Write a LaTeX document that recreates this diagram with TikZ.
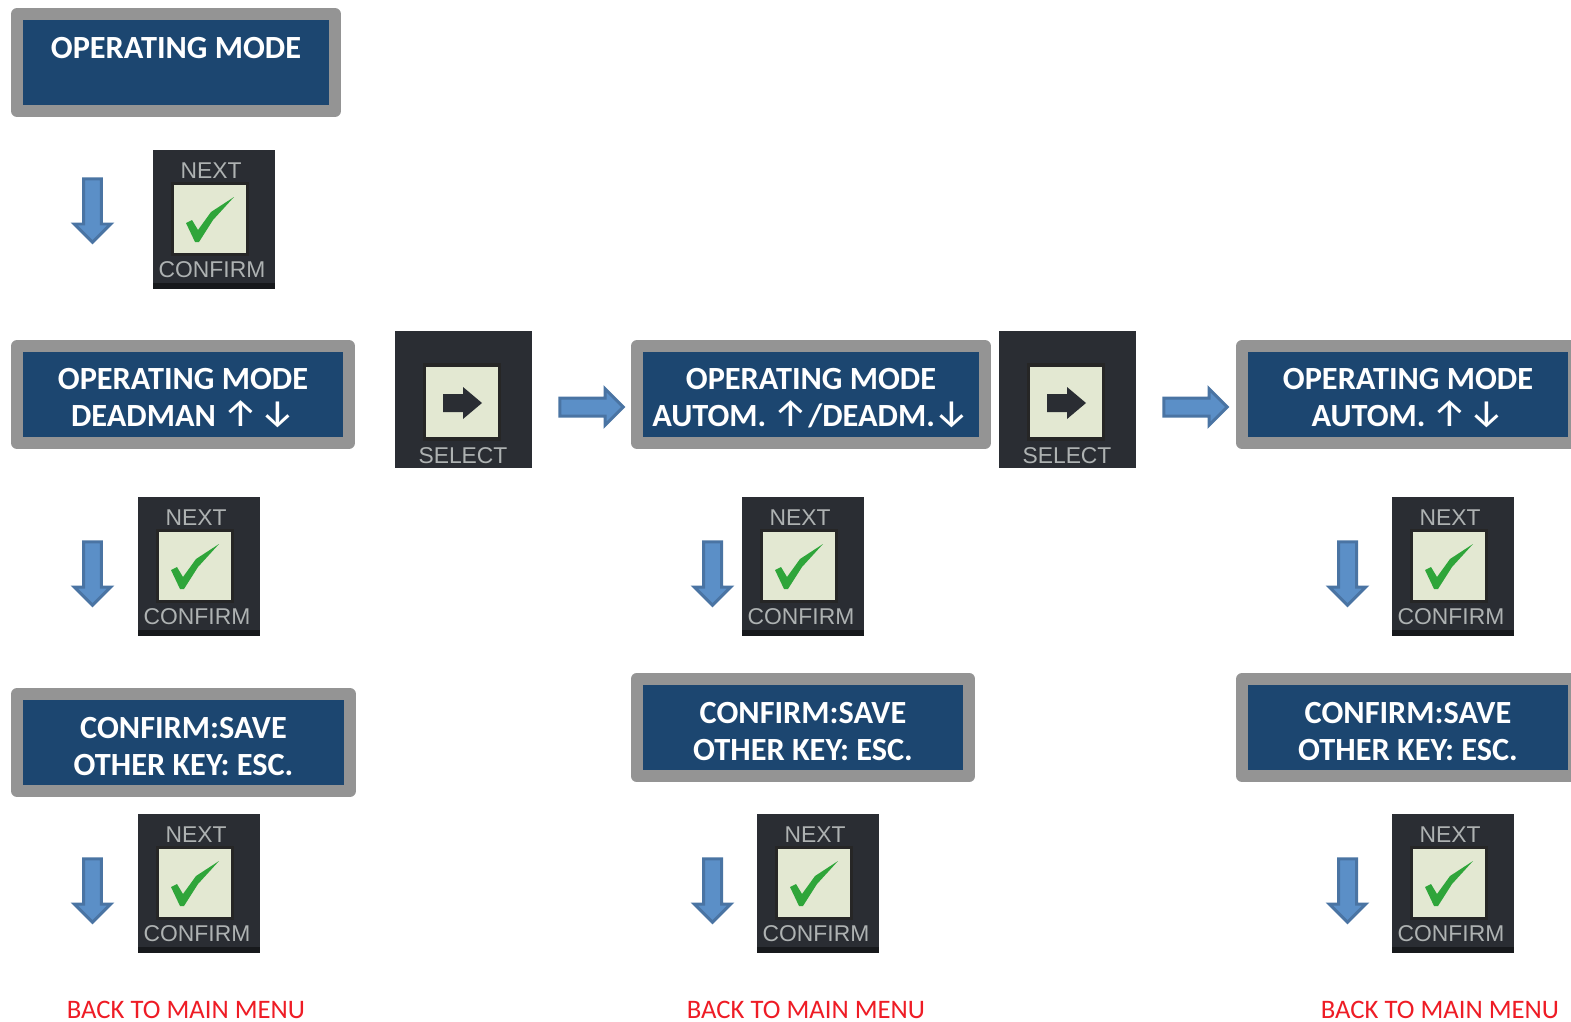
\documentclass[tikz,border=0pt]{standalone}
\usepackage{fontspec}
\usepackage{xcolor}
\usetikzlibrary{shapes.arrows}
\setmainfont{Carlito}
\newfontfamily\arrowfont{Fira Sans}
\newfontfamily\keyfont{Liberation Sans}
\definecolor{PanelBlue}{HTML}{1C4670}
\definecolor{PanelGray}{HTML}{949494}
\definecolor{KeyDark}{HTML}{2A2D33}
\definecolor{KeyStrip}{HTML}{17191C}
\definecolor{KeyLight}{HTML}{E3E8D2}
\definecolor{KeyText}{HTML}{AEB2B2}
\definecolor{CheckGreen}{HTML}{2FA53A}
\definecolor{ArrowFill}{HTML}{5B8FC7}
\definecolor{ArrowEdge}{HTML}{4A74A3}
\definecolor{BackRed}{HTML}{EE1C25}
\newcommand\txtmode{OPERATING MODE}
\newcommand\txtsave{CONFIRM:SAVE}
\newcommand\txtesc{OTHER KEY: ESC.}
\newcommand\txtback{BACK TO MAIN MENU}
\newcommand\arrup{{\arrowfont\mdseries\fontsize{22}{21}\selectfont\symbol{"2191}}}
\newcommand\arrdown{{\arrowfont\mdseries\fontsize{22}{21}\selectfont\symbol{"2193}}}
\tikzstyle{panel} = [rectangle, inner sep=0pt, align=center, draw=PanelGray, fill=PanelBlue, line width=0.24cm, line join=round, text=white, font=\fontsize{18.4}{21}\selectfont\bfseries, minimum height=1.94cm, text height=37.5pt]
\tikzstyle{keybody} = [rectangle, inner sep=0pt, anchor=north west, fill=KeyDark]
\tikzstyle{keypad} = [rectangle, inner sep=0pt, draw=black!85, fill=KeyLight, line width=0.07cm, minimum width=1.5cm]
\tikzstyle{keylabel} = [inner sep=0pt, text=KeyText, font=\fontsize{13}{13}\keyfont]
\tikzstyle{down} = [single arrow, shape border rotate=270, draw=ArrowEdge, fill=ArrowFill, line width=0.06cm, inner sep=0.15cm, minimum height=1.27cm, single arrow head extend=0.185cm]
\tikzstyle{right} = [down, shape border rotate=0]
\tikzstyle{back} = [inner sep=0pt, text=BackRed, font=\fontsize{15.2}{16}\selectfont]
\tikzset{
  nextkey/.pic={
    \node[keybody, minimum width=2.44cm, minimum height=2.78cm] (-body) at (0,0) {};
    \fill[KeyStrip] (0,133) rectangle (122,139);
    \node[keypad, minimum height=1.42cm] (-pad) at (57,69) {};
    \fill[CheckGreen] (33,73) -- (39,70) -- (45,80) -- (58,62) -- (81,47) -- (60,70) -- (46,92) -- (42,92) -- cycle;
    \node[keylabel] (-next) at (58,21) {NEXT};
    \node[keylabel] (-confirm) at (59,120) {CONFIRM};
  },
  selectkey/.pic={
    \node[keybody, minimum width=2.74cm, minimum height=2.74cm] (-body) at (0,0) {};
    \node[keypad, minimum height=1.48cm] (-pad) at (67,71) {};
    \fill[KeyDark] (48,63) -- (68,63) -- (68,56) -- (87,72) -- (68,88) -- (68,81) -- (48,81) -- cycle;
    \node[keylabel] (-select) at (68,125) {SELECT};
  }
}
\begin{document}
\begin{tikzpicture}[x=0.02cm, y=-0.02cm]
\clip (0,0) rectangle (1571,1021);
\node[panel, minimum width=6.36cm] (mode) at (176,62.5) {\txtmode\\ \phantom{\txtmode}};
\node[panel, minimum width=6.64cm] (deadman) at (183,394.5) {\txtmode\\DEADMAN \arrup\kern-3pt\ \arrdown};
\node[panel, minimum width=6.96cm] (autodead) at (811,394.5) {\txtmode\\AUTOM. \arrup/DEADM.\arrdown};
\node[panel, minimum width=6.64cm] (autom) at (1408,394.5) {\txtmode\\AUTOM. \arrup\kern-3pt\ \arrdown};
\node[panel, minimum width=6.66cm] (savea) at (183.5,742.5) {\txtsave\\\txtesc};
\node[panel, minimum width=6.66cm] (saveb) at (803,727.5) {\txtsave\\\txtesc};
\node[panel, minimum width=6.64cm] (savec) at (1408,727.5) {\txtsave\\\txtesc};
\pic (ka) at (153,150) {nextkey};
\pic (kb) at (138,497) {nextkey};
\pic (kc) at (742,497) {nextkey};
\pic (kd) at (1392,497) {nextkey};
\pic (ke) at (138,814) {nextkey};
\pic (kf) at (757,814) {nextkey};
\pic (kg) at (1392,814) {nextkey};
\pic (sa) at (395,331) {selectkey};
\pic (sb) at (999,331) {selectkey};
\node[down] (da) at (92.5,206) {};
\node[down] (db) at (92.5,569) {};
\node[down] (dc) at (712.5,569) {};
\node[down] (dd) at (1347.5,569) {};
\node[down] (de) at (92.5,886) {};
\node[down] (df) at (712.5,886) {};
\node[down] (dg) at (1347.5,886) {};
\node[right] (ra) at (587,407) {};
\node[right] (rb) at (1191,407) {};
\node[back] (ba) at (186,1010) {\txtback};
\node[back] (bb) at (806,1010) {\txtback};
\node[back] (bc) at (1440,1010) {\txtback};
\end{tikzpicture}
\end{document}
